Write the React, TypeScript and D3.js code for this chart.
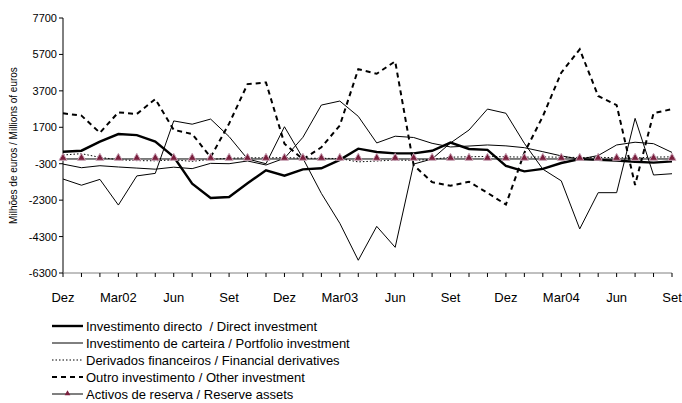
import React from "react";
import * as d3 from "d3";

const categories = [
  "Dez", "", "", "Mar02", "", "", "Jun", "", "", "Set", "", "",
  "Dez", "", "", "Mar03", "", "", "Jun", "", "", "Set", "", "",
  "Dez", "", "", "Mar04", "", "", "Jun", "", "", "Set",
];

const yTicks = [7700, 5700, 3700, 1700, -300, -2300, -4300, -6300];

const directInvestment = [
  360, 415, 910, 1330, 1270, 910, 85, -1400, -2180, -2130, -1375, -660,
  -960, -610, -550, -90, 525, 345, 270, 270, 410, 860, 510, 460,
  -420, -720, -580, -260, -50, -90, -130, -190, -240, -170,
];

const portfolioInvestment = [
  -1140, -1480, -1160, -2570, -970, -830, 2050, 1870, 2150, 1190, -40, -300,
  1730, 0, -1930, -3570, -5600, -3740, -4890, -320, -40, 840, 1550, 2700,
  2470, 820, -600, -1240, -3880, -1890, -1890, 2190, -920, -850,
];

const otherThin = [
  -320, -520, -410, -480, -540, -600, -490, -570, -280, -300, -150, -370,
  0, 1150, 2920, 3140, 2300, 840, 1210, 1140, 820, 620, 670, 730,
  680, 580, 360, 130, -50, 150, 730, 880, 800, 320,
];

const financialDerivatives = [
  180, 250, 50, -80, -130, -140, -90, -170, -60, 0, 30, 20,
  40, 0, 0, -20, -200, -150, -100, -120, -60, 60, 80, 100,
  80, 60, 70, 60, 40, 50, 30, 20, 60, 80,
];

const otherInvestment = [
  2470, 2340, 1400, 2520, 2430, 3250, 1560, 1330, 60, 1900, 4070, 4160,
  800, -60, 600, 1800, 4890, 4640, 5320, -380, -1310, -1510, -1290, -1900,
  -2540, 300, 2300, 4700, 5980, 3420, 2920, -1470, 2470, 2700,
];

const reserveAssets = [
  -40, -40, -40, -40, -40, -40, -40, -40, -40, -40, -40, -40,
  -40, -40, -40, -40, -40, -40, -40, -40, -40, -40, -40, -40,
  -40, -40, -40, -40, -40, -40, -40, -40, -40, -40,
];

const legendLabels = [
  "Investimento directo  / Direct investment",
  "Investimento de carteira / Portfolio investment",
  "Derivados financeiros / Financial derivatives",
  "Outro investimento / Other investment",
  "Activos de reserva / Reserve assets",
];

const W = 682;
const H = 403;
const FONT = "'Liberation Sans', Arial, sans-serif";

export default function App() {
  const x = d3.scaleLinear().domain([0, categories.length - 1]).range([63, 672]);
  const y = d3.scaleLinear().domain([-6300, 7700]).range([273, 18]);
  const line = d3
    .line<number>()
    .x((_, i) => x(i))
    .y((d) => y(d));

  const tri = d3.symbol().type(d3.symbolTriangle).size(28)() || "";

  const styles = [
    { stroke: "#000", width: 2.4, dash: undefined as string | undefined },
    { stroke: "#000", width: 1, dash: undefined },
    { stroke: "#000", width: 1, dash: "1.5,2" },
    { stroke: "#000", width: 2, dash: "5,4" },
    { stroke: "#000", width: 1, dash: undefined },
  ];

  const legendY = [326, 343, 360, 377, 394];

  return (
    <div style={{ position: "absolute", left: 0, top: 0 }}>
      <svg width={W} height={H} style={{ display: "block", background: "#fff" }}>
        {/* y axis */}
        <line x1={63} x2={63} y1={18} y2={273} stroke="#000" strokeWidth={1} />
        {yTicks.map((t) => (
          <g key={t}>
            <line x1={59} x2={63} y1={y(t)} y2={y(t)} stroke="#000" />
            <text
              x={57}
              y={y(t) + 4}
              textAnchor="end"
              fontFamily={FONT}
              fontSize={11}
              fill="#000"
            >
              {t}
            </text>
          </g>
        ))}
        <text
          transform={`translate(17,${(18 + 273) / 2}) rotate(-90)`}
          textAnchor="middle"
          fontFamily={FONT}
          fontSize={10}
          fill="#000"
        >
          Milhões de euros / Millions of euros
        </text>

        {/* x axis */}
        <line x1={63} x2={672} y1={273} y2={273} stroke="#808080" strokeWidth={1} />
        {categories.map((c, i) => (
          <g key={i}>
            <line x1={x(i)} x2={x(i)} y1={273} y2={277} stroke="#000" />
            {c && (
              <text
                x={x(i)}
                y={302}
                textAnchor="middle"
                fontFamily={FONT}
                fontSize={13}
                fill="#000"
              >
                {c}
              </text>
            )}
          </g>
        ))}

        {/* series */}
        <path d={line(reserveAssets) || ""} fill="none" stroke="#000" strokeWidth={1} />
        <path d={line(otherThin) || ""} fill="none" stroke="#000" strokeWidth={1} />
        <path d={line(portfolioInvestment) || ""} fill="none" stroke="#000" strokeWidth={1} />
        <path
          d={line(financialDerivatives) || ""}
          fill="none"
          stroke="#000"
          strokeWidth={1}
          strokeDasharray="1.5,2"
        />
        <path
          d={line(otherInvestment) || ""}
          fill="none"
          stroke="#000"
          strokeWidth={2}
          strokeDasharray="5,4"
        />
        <path d={line(directInvestment) || ""} fill="none" stroke="#000" strokeWidth={2.4} />
        {reserveAssets.map((v, i) => (
          <path
            key={i}
            d={tri}
            transform={`translate(${x(i)},${y(v) - 1})`}
            fill="#7a1f3d"
            stroke="#c9a3b6"
            strokeWidth={1}
          />
        ))}

        {/* legend */}
        {legendLabels.map((l, i) => (
          <g key={l}>
            <line
              x1={52}
              x2={83}
              y1={legendY[i]}
              y2={legendY[i]}
              stroke={styles[i].stroke}
              strokeWidth={styles[i].width}
              strokeDasharray={styles[i].dash}
            />
            {i === 4 && (
              <path
                d={d3.symbol().type(d3.symbolTriangle).size(14)() || ""}
                transform={`translate(67.5,${legendY[i] - 0.5})`}
                fill="#7a1f3d"
              />
            )}
            <text
              x={86}
              y={legendY[i] + 4.5}
              fontFamily={FONT}
              fontSize={13}
              fill="#000"
              style={{ whiteSpace: "pre" }}
            >
              {l}
            </text>
          </g>
        ))}
      </svg>
    </div>
  );
}
